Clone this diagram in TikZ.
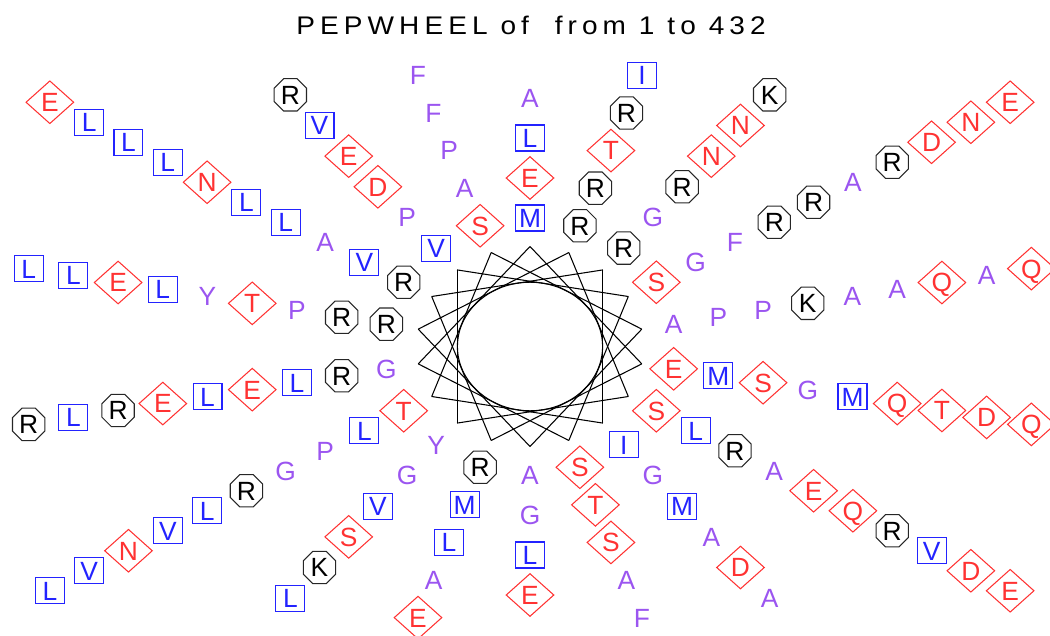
\documentclass[tikz,border=0pt]{standalone}
\usepackage{fontspec}
\setmainfont{Liberation Sans}
\newfontfamily\titlefont{Liberation Sans}[LetterSpace=20, FakeStretch=1.1]
\usetikzlibrary{shapes.geometric}

\definecolor{wheelred}{RGB}{255,50,50}
\definecolor{wheelblue}{RGB}{35,35,255}
\definecolor{wheelpurple}{RGB}{155,85,240}

\tikzset{
  res/.style={font=\fontsize{15}{17}\selectfont, text height=10.7pt, text depth=0pt,
    inner sep=0pt, line width=0.6pt},
  phob/.style={res, draw=wheelblue, text=wheelblue, rectangle,
    minimum width=0.58cm, minimum height=0.52cm},
  amb/.style={res, text=wheelpurple},
  phil/.style={res, draw=wheelred, text=wheelred, diamond,
    minimum width=0.96cm, minimum height=0.86cm},
  plus/.style={res, draw=black!85, text=black, regular polygon,
    regular polygon sides=8, minimum size=0.7cm},
  resI/.style=phob, resL/.style=phob, resV/.style=phob, resM/.style=phob,
  resA/.style=amb, resF/.style=amb, resG/.style=amb, resP/.style=amb, resY/.style=amb,
  resD/.style=phil, resE/.style=phil, resN/.style=phil,
  resQ/.style=phil, resS/.style=phil, resT/.style=phil,
  resR/.style=plus, resK/.style=plus
}

\begin{document}
\begin{tikzpicture}[x=0.02cm, y=-0.02cm]
\def\cx{530}
\def\cy{346.5}
\def\fx{1.135}
\def\rz{128.5}
\def\rs{40}
\def\rstar{100}
\useasboundingbox (0,0) rectangle (1050,635);

\node[font=\titlefont\fontsize{14.5}{16}\selectfont, anchor=base] (title) at (531,35)
  {PEPWHEEL of~~from 1 to 432};

% the wheel
\foreach \k in {0,...,17} {
  \pgfmathsetmacro{\ang}{10+20*\k}
  \coordinate (w\k) at ({\cx+\fx*\rstar*cos(\ang)}, {\cy-\rstar*sin(\ang)});
}
\foreach \k in {0,...,17} {
  \pgfmathtruncatemacro{\j}{mod(\k+5,18)}
  \draw[line width=0.6pt] (w\k) -- (w\j);
}
\coordinate (C) at (\cx,\cy);
\draw[line width=0.6pt] (C) ellipse [x radius=1.452cm, y radius=1.286cm];

% residues, spoke by spoke from the inside out
\foreach \ang/\seq in {
  10/{A,P,P,K,A,A,Q,A,Q},
  30/{S,G,F,R,R,A,R,D,N,E},
  50/{R,G,R,N,N,K},
  70/{R,R,T,R,I},
  90/{M,E,L,A},
  110/{S,A,P,F,F},
  130/{V,P,D,E,V,R},
  150/{R,V,A,L,L,N,L,L,L,E},
  170/{R,R,P,T,Y,L,E,L,L},
  190/{G,R,L,E,L,E,R,L,R},
  210/{T,L,P,G,R,L,V,N,V,L},
  230/{Y,G,V,S,K,L},
  250/{R,M,L,A,E},
  270/{A,G,L,E},
  290/{S,T,S,A,F},
  310/{I,G,M,A,D,A},
  330/{S,L,R,A,E,Q,R,V,D,E},
  350/{E,M,S,G,M,Q,T,D,Q}} {
  \foreach \res [count=\n from 0] in \seq {
    \node[res\res] (r\ang-\n) at ({\cx+\fx*(\rz+\n*\rs)*cos(\ang)}, {\cy-(\rz+\n*\rs)*sin(\ang)}) {\res};
  }
}
\end{tikzpicture}
\end{document}
